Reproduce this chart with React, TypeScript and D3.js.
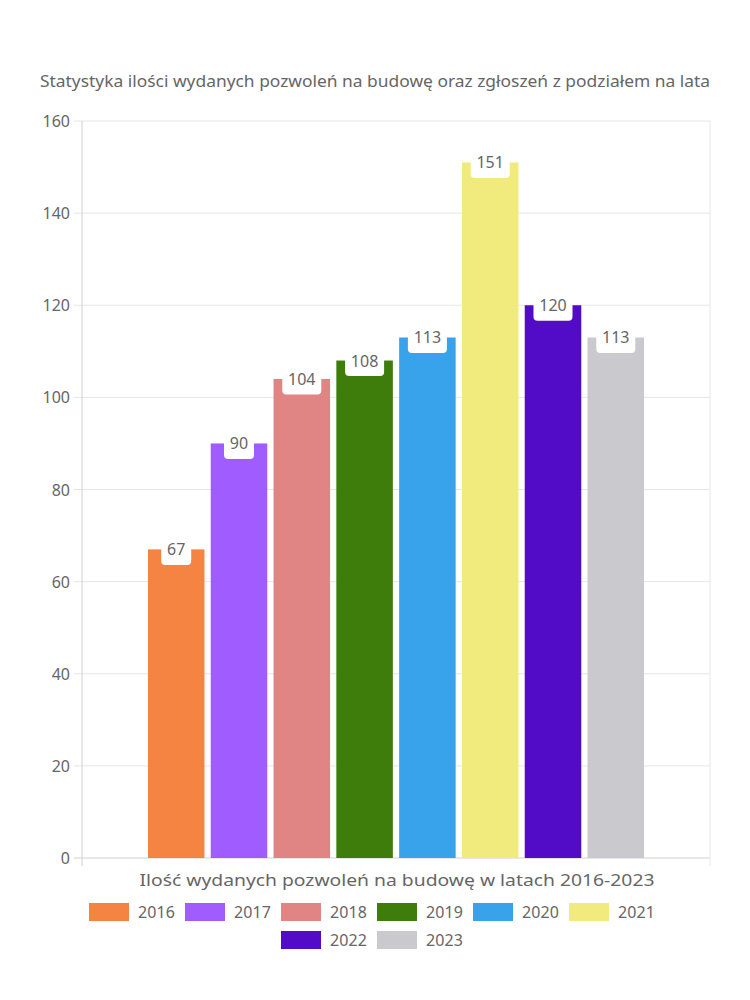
import React from "react";
import * as d3 from "d3";

const years = ["2016", "2017", "2018", "2019", "2020", "2021", "2022", "2023"];
const values = [67, 90, 104, 108, 113, 151, 120, 113];
const colors = ["#F58442", "#A05CFF", "#E08484", "#3E7C0C", "#38A3EB", "#F0EB7C", "#520BC6", "#CACACE"];
const yTicks = [0, 20, 40, 60, 80, 100, 120, 140, 160];
const title = "Statystyka ilości wydanych pozwoleń na budowę oraz zgłoszeń z podziałem na lata";
const xTitle = "Ilość wydanych pozwoleń na budowę w latach 2016-2023";

const W = 750, H = 1000;
const left = 82, right = 710, top = 121, bottom = 858;
const FONT = "'Noto Sans', Lato, sans-serif";
const TXT = "#666";

export default function App() {
  const y = d3.scaleLinear().domain([0, 160]).range([bottom, top]);
  const xa = d3.scaleBand().domain(years).range([left + (right - left) * 0.1, right - (right - left) * 0.1]);
  const bw = xa.bandwidth() * 0.9;

  const row1 = years.slice(0, 6);
  const row2 = years.slice(6);
  const itemW = 96;
  const legendRow = (items: string[], cy: number) => {
    const total = items.length * itemW;
    const x0 = W / 2 - total / 2 + 2;
    return items.map((yr, i) => {
      const idx = years.indexOf(yr);
      const bx = x0 + i * itemW;
      return (
        <g key={yr}>
          <rect x={bx} y={cy - 9} width={40} height={18} fill={colors[idx]} />
          <text x={bx + 49} y={cy} dominantBaseline="central" fontSize={16} textLength={37} fill={TXT} fontFamily={FONT}>{yr}</text>
        </g>
      );
    });
  };

  return (
    <div style={{ position: "absolute", left: 0, top: 0 }}>
      <svg width={W} height={H} style={{ display: "block", background: "#fff" }}>
        <text x={375} y={81} textAnchor="middle" dominantBaseline="central" fontSize={16} textLength={670} lengthAdjust="spacingAndGlyphs" fill={TXT} fontFamily={FONT}>{title}</text>
        {yTicks.map((t) => (
          <g key={t}>
            <line x1={74} x2={right} y1={y(t)} y2={y(t)} stroke={t === 0 ? "#d0d0d0" : "#e6e6e6"} strokeWidth={1} />
            <text x={70} y={y(t)} textAnchor="end" dominantBaseline="central" fontSize={16} fill={TXT} fontFamily={FONT}>{t}</text>
          </g>
        ))}
        <line x1={left} x2={left} y1={top} y2={bottom + 8} stroke="#d0d0d0" />
        <line x1={right} x2={right} y1={top} y2={bottom + 8} stroke="#e6e6e6" />
        {years.map((yr, i) => {
          const bx = xa(yr)! + (xa.bandwidth() - bw) / 2;
          const by = y(values[i]);
          const label = String(values[i]);
          const lw = label.length * 9 + 12;
          const cx = bx + bw / 2;
          return (
            <g key={yr}>
              <rect x={bx} y={by} width={bw} height={bottom - by} fill={colors[i]} />
              <rect x={cx - lw / 2} y={by - 16} width={lw} height={31.5} rx={4} fill="#fff" />
              <text x={cx} y={by} textAnchor="middle" dominantBaseline="central" fontSize={16} fill={TXT} fontFamily={FONT}>{label}</text>
            </g>
          );
        })}
        <text x={397} y={879} textAnchor="middle" dominantBaseline="central" fontSize={17} textLength={515} lengthAdjust="spacingAndGlyphs" fill={TXT} fontFamily={FONT}>{xTitle}</text>
        {legendRow(row1, 912)}
        {legendRow(row2, 940)}
      </svg>
    </div>
  );
}
